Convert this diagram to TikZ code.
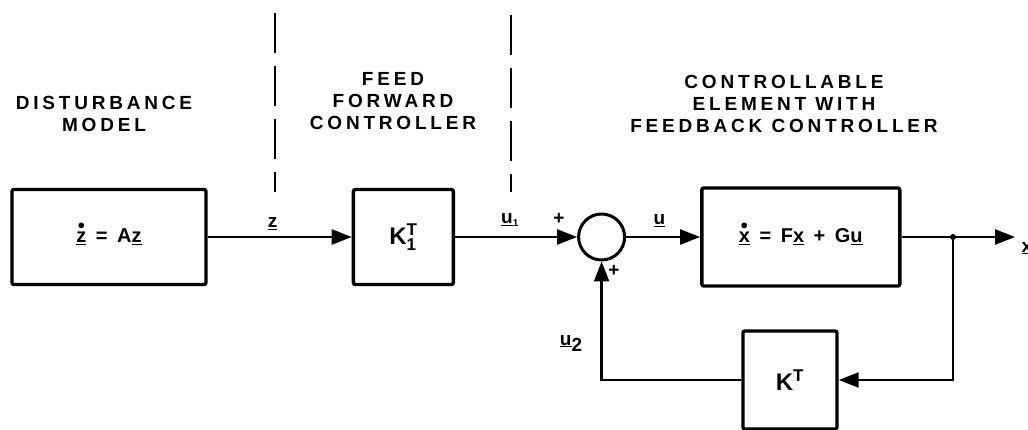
\documentclass[tikz,border=0pt]{standalone}
\usepackage{fontspec}
\setmainfont{Liberation Sans}
\newfontfamily\capsfont[LetterSpace=20]{Liberation Sans}
\usepackage{tikz}
\usetikzlibrary{positioning,arrows.meta}

\newcommand\dotvec[1]{\underline{\ooalign{#1\cr\hidewidth\raisebox{0.5em}{\textbullet}\hidewidth\cr}}}
\newcommand\smallsz[1]{\hbox{\fontsize{17}{19}\selectfont #1}}

\begin{document}
\begin{tikzpicture}[
    x=1pt, y=-1pt,
    font=\bfseries\fontsize{19}{22}\selectfont,
    sys_box/.style={draw, line width=3.4pt, rounded corners=2pt, inner sep=0pt, text centered,
                    font=\capsfont\bfseries\fontsize{20}{24}\selectfont},
    sum_node/.style={draw, circle, line width=3pt, minimum size=46pt, inner sep=0pt},
    title_text/.style={align=center, font=\capsfont\bfseries\fontsize{19}{22}\selectfont},
    sig_label/.style={font=\bfseries\fontsize{19}{22}\selectfont},
    sig_arrow/.style={-{Triangle[length=20pt,width=15pt]}, line width=2.5pt},
    sig_line/.style={line width=2.5pt},
    dash_line/.style={line width=2pt, dash pattern=on 40pt off 13pt}
]
\useasboundingbox (0,0) rectangle (1028,430);

% titles
\node (t_dist) [title_text] at (104,114) {DISTURBANCE\\MODEL};
\node (t_ff)   [title_text] at (393,101) {FEED\\FORWARD\\CONTROLLER};
\node (t_ctrl) [title_text] at (784,104) {CONTROLLABLE\\ELEMENT WITH\\FEEDBACK CONTROLLER};

% separators
\draw [dash_line] (275,13) -- (275,192);
\draw [dash_line] (511,15) -- (511,192);

% blocks
\node (dist)  [sys_box, minimum width=194pt, minimum height=95pt] at (109,237)
    {\dotvec{z} = A\underline{z}};
\node (kff)   [sys_box, minimum width=100pt, minimum height=95pt, right=144pt of dist]
    {\fontsize{24}{26}\selectfont K$^{\smallsz{T}}_{\smallsz{1}}$};
\node (sum)   [sum_node, right=122pt of kff] {};
\node (plant) [sys_box, minimum width=198pt, minimum height=98pt, right=74pt of sum]
    {\dotvec{x} = F\underline{x} + G\underline{u}};
\node (kfb)   [sys_box, minimum width=94pt, minimum height=98pt] at (790,380)
    {\fontsize{24}{26}\selectfont K$^{\smallsz{T}}$};

\coordinate (split) at (953,237);
\coordinate (out)   at (1015,237);

% signals
\draw [sig_arrow] (dist.east) -- node[sig_label, above=3pt, pos=0.45] {\underline{z}} (kff.west);
\draw [sig_arrow] (kff.east) -- node[sig_label, above=6pt, pos=0.45] {\underline{u}$_{\hbox{\fontsize{10}{11}\selectfont 1}}$} (sum.west);
\draw [sig_arrow] (sum.east) -- node[sig_label, above=6pt, pos=0.45] {\underline{u}} (plant.west);
\draw [sig_line] (plant.east) -- (split);
\draw [sig_arrow] (split) -- (out);
\fill (split) circle (3pt);
\draw [sig_arrow] (split) |- (kfb.east);
\draw [sig_arrow] (kfb.west) -| (sum.south);

% signs and feedback label
\node (p_in)  [sig_label] at (559,219) {+};
\node (p_fb)  [sig_label] at (614,271) {+};
\node (u_two) [sig_label] at (571,343) {\underline{u}\raisebox{-6pt}{2}};
\node (x_out) [sig_label, anchor=west] at (1018,248) {\underline{x}};

\end{tikzpicture}
\end{document}
